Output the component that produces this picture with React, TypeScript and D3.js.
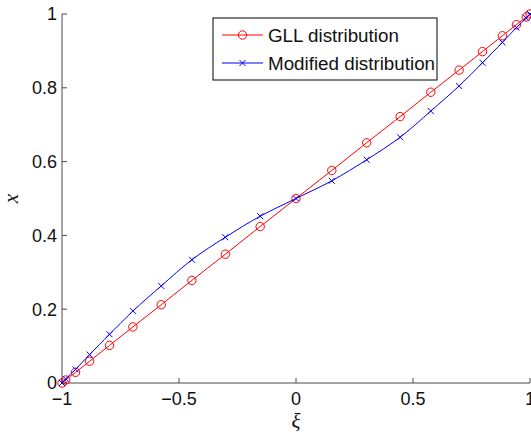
import React from "react";
import * as d3 from "d3";

const xiValues = [-1, -0.984, -0.942, -0.882, -0.797, -0.697, -0.576, -0.445, -0.302, -0.153, 0, 0.153, 0.302, 0.445, 0.576, 0.697, 0.797, 0.882, 0.942, 0.984, 1];
const gllValues = [0, 0.008, 0.029, 0.059, 0.102, 0.152, 0.212, 0.278, 0.349, 0.424, 0.5, 0.576, 0.651, 0.722, 0.788, 0.848, 0.898, 0.941, 0.971, 0.992, 1];
const modifiedValues = [0, 0.011, 0.037, 0.077, 0.132, 0.195, 0.263, 0.334, 0.395, 0.452, 0.5, 0.548, 0.605, 0.666, 0.737, 0.805, 0.868, 0.923, 0.963, 0.989, 1];
const xTicks = [-1, -0.5, 0, 0.5, 1];
const xTickLabels = ["\u22121", "\u22120.5", "0", "0.5", "1"];
const yTicks = [0, 0.2, 0.4, 0.6, 0.8, 1];
const yTickLabels = ["0", "0.2", "0.4", "0.6", "0.8", "1"];
const seriesNames = ["GLL distribution", "Modified distribution"];

const W = 531;
const H = 437;
const L = 62, R = 530, T = 14, B = 383;
const FONT = "'Liberation Sans', Arial, Helvetica, sans-serif";
const AXIS = "#4a4a4a";

export default function App() {
  const x = d3.scaleLinear().domain([-1, 1]).range([L, R]);
  const y = d3.scaleLinear().domain([0, 1]).range([B, T]);
  const redPts: [number, number][] = xiValues.map((v, i) => [v, gllValues[i]]);
  const bluePts: [number, number][] = xiValues.map((v, i) => [v, modifiedValues[i]]);
  const lineStraight = d3.line<[number, number]>().x(d => x(d[0])).y(d => y(d[1]));
  const lineSmooth = d3.line<[number, number]>().x(d => x(d[0])).y(d => y(d[1])).curve(d3.curveCatmullRom);
  const cr = 4.2;
  const xs = 3;
  const xMark = (cx: number, cy: number, key: string | number, stroke: string) => (
    <path key={key} d={`M${cx - xs},${cy - xs}L${cx + xs},${cy + xs}M${cx - xs},${cy + xs}L${cx + xs},${cy - xs}`} stroke={stroke} strokeWidth={1} fill="none" />
  );
  const legX = 213, legY = 18, legW = 224, legH = 62;
  const rows = [35, 63];
  return (
    <svg width={W} height={H} style={{ position: "absolute", left: 0, top: 0, background: "#fff" }} fontFamily={FONT}>
      <rect x={0} y={0} width={W} height={H} fill="#fff" />
      {/* axes */}
      <line x1={L} y1={B} x2={R} y2={B} stroke={AXIS} strokeWidth={1} />
      <line x1={L} y1={B} x2={L} y2={T} stroke={AXIS} strokeWidth={1} />
      {xTicks.map((t, i) => (
        <g key={"xt" + i}>
          <line x1={x(t)} x2={x(t)} y1={B} y2={B - 5} stroke={AXIS} strokeWidth={1} />
          <text x={x(t)} y={B + 22} textAnchor="middle" fontSize={18} fill="#111">{xTickLabels[i]}</text>
        </g>
      ))}
      {yTicks.map((t, i) => (
        <g key={"yt" + i}>
          <line x1={L} x2={L + 5} y1={y(t)} y2={y(t)} stroke={AXIS} strokeWidth={1} />
          <text x={L - 5} y={y(t)} dy="0.35em" textAnchor="end" fontSize={18} fill="#111">{yTickLabels[i]}</text>
        </g>
      ))}
      <text x={(L + R) / 2} y={428} textAnchor="middle" fontSize={21} fontStyle="italic" fontFamily="'Liberation Serif', 'DejaVu Serif', serif" fill="#111">ξ</text>
      <text transform={`translate(18,${(T + B) / 2}) rotate(-90)`} textAnchor="middle" fontSize={21} fontStyle="italic" fontFamily="'Liberation Serif', 'DejaVu Serif', serif" fill="#111">x</text>
      {/* series */}
      <path d={lineStraight(redPts) || ""} stroke="#ff0000" strokeWidth={1} fill="none" />
      {redPts.map((p, i) => (
        <circle key={"rc" + i} cx={x(p[0])} cy={y(p[1])} r={cr} stroke="#ff0000" strokeWidth={1} fill="none" />
      ))}
      <path d={lineSmooth(bluePts) || ""} stroke="#0000ff" strokeWidth={1} fill="none" />
      {bluePts.map((p, i) => xMark(x(p[0]), y(p[1]), "bx" + i, "#0000ff"))}
      {/* legend */}
      <rect x={legX} y={legY} width={legW} height={legH} fill="#fff" stroke="#000" strokeWidth={1} />
      <line x1={222} x2={263} y1={rows[0]} y2={rows[0]} stroke="#ff0000" strokeWidth={1} />
      <circle cx={242.5} cy={rows[0]} r={cr} stroke="#ff0000" strokeWidth={1} fill="none" />
      <text x={268} y={rows[0]} dy="0.35em" fontSize={18.8} fill="#111">{seriesNames[0]}</text>
      <line x1={222} x2={263} y1={rows[1]} y2={rows[1]} stroke="#0000ff" strokeWidth={1} />
      {xMark(242.5, rows[1], "legx", "#0000ff")}
      <text x={268} y={rows[1]} dy="0.35em" fontSize={18.8} fill="#111">{seriesNames[1]}</text>
    </svg>
  );
}
